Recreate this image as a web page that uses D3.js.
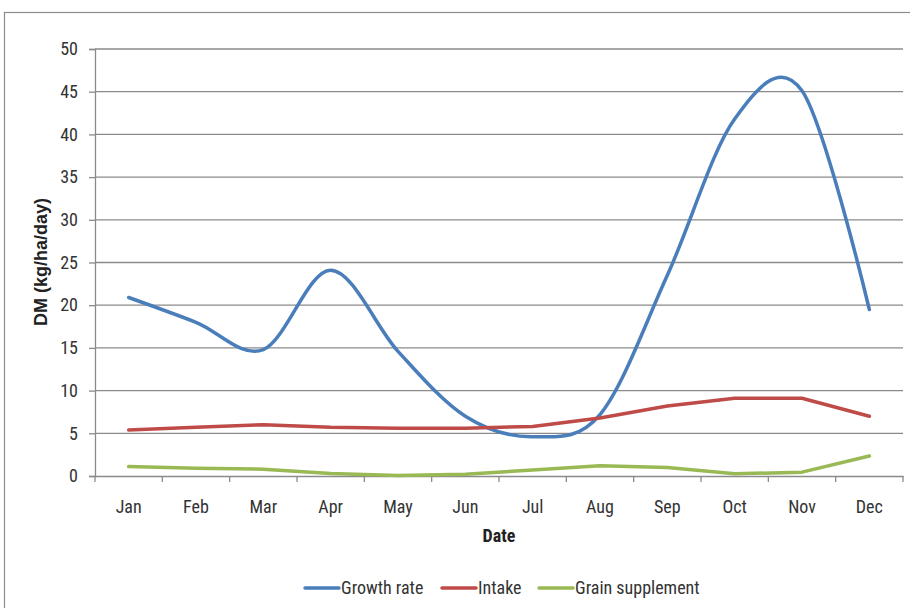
<!DOCTYPE html>
<html><head><meta charset="utf-8">
<script src="https://cdn.jsdelivr.net/npm/d3@7"></script>
<style>
body{margin:0;background:#fff;}
text{font-family:"Roboto Condensed","Liberation Sans Narrow",sans-serif;fill:#333;}
</style></head>
<body><svg id="c" width="910" height="608"></svg>
<script>
const months = ["Jan","Feb","Mar","Apr","May","Jun","Jul","Aug","Sep","Oct","Nov","Dec"];
const growthRate = [20.9, 18.0, 14.8, 24.1, 14.6, 7.0, 4.6, 7.2, 23.5, 41.8, 45.1, 19.5];
const intake = [5.4, 5.7, 6.0, 5.7, 5.6, 5.6, 5.8, 6.8, 8.2, 9.1, 9.1, 7.0];
const grain = [1.1, 0.9, 0.8, 0.3, 0.05, 0.2, 0.7, 1.2, 1.0, 0.25, 0.45, 2.35];
const yTicks = [0,5,10,15,20,25,30,35,40,45,50];
const seriesNames = ["Growth rate","Intake","Grain supplement"];
const colors = ["#4A7EBB","#BE4B48","#98B954"];

const svg = d3.select("#c");
const m = {l:95, r:903, t:49, b:476};
const x = d3.scaleBand().domain(months).range([m.l, m.r]);
const y = d3.scaleLinear().domain([0,50]).range([m.b, m.t]);
const NARROW = "'Roboto Condensed','Liberation Sans Narrow',sans-serif";

// outer frame
svg.append("rect").attr("x",4.5).attr("y",12.5).attr("width",920).attr("height",620)
  .attr("fill","none").attr("stroke","#8c8c8c").attr("stroke-width",1.2);

// gridlines
svg.append("g").selectAll("line").data(yTicks.filter(d=>d>0)).join("line")
  .attr("x1",m.l).attr("x2",m.r).attr("y1",d=>y(d)).attr("y2",d=>y(d))
  .attr("stroke","#8a8a8a").attr("stroke-width",1.3);

// y axis
const ya = svg.append("g").attr("transform",`translate(${m.l},0)`)
  .call(d3.axisLeft(y).tickValues(yTicks).tickSize(6).tickPadding(11));
ya.select(".domain").attr("stroke","#8a8a8a").attr("stroke-width",1.3);
ya.selectAll(".tick line").attr("stroke","#8a8a8a").attr("stroke-width",1.3);
ya.selectAll("text").attr("font-size",18).style("fill","#333").style("font-family",NARROW);

// x axis
const xa = svg.append("g").attr("transform",`translate(0,${m.b})`)
  .call(d3.axisBottom(x).tickSize(0));
xa.select(".domain").attr("stroke","#8a8a8a").attr("stroke-width",1.3);
xa.selectAll("text").attr("font-size",18).style("fill","#333").style("font-family",NARROW)
  .attr("dy",null).attr("y",37);
// boundary ticks
const bounds = months.map(d=>x(d)).concat([m.r]);
svg.append("g").selectAll("line").data(bounds).join("line")
  .attr("x1",d=>d).attr("x2",d=>d).attr("y1",m.b).attr("y2",m.b+6)
  .attr("stroke","#8a8a8a").attr("stroke-width",1.3);

// axis titles
svg.append("text").attr("x",499).attr("y",542).attr("text-anchor","middle")
  .style("font-family",NARROW).attr("font-size",18).attr("font-weight","bold").style("fill","#222").text("Date");
svg.append("text").attr("transform","translate(47,262) rotate(-90)").attr("text-anchor","middle")
  .style("font-family","'Liberation Sans',sans-serif").attr("font-size",18).attr("font-weight","bold")
  .style("fill","#222").text("DM (kg/ha/day)");

const cx = d => x(d) + x.bandwidth()/2;
const data = [growthRate, intake, grain];
const curves = [d3.curveCardinal.tension(0), d3.curveLinear, d3.curveLinear];
data.forEach((vals,i)=>{
  const line = d3.line().x((d,j)=>cx(months[j])).y(d=>y(d)).curve(curves[i]);
  svg.append("path").datum(vals).attr("d",line).attr("fill","none")
    .attr("stroke",colors[i]).attr("stroke-width",3.5).attr("stroke-linejoin","round").attr("stroke-linecap","round");
});

// legend
const legX = [305, 442, 539];
const lg = svg.append("g");
seriesNames.forEach((n,i)=>{
  lg.append("line").attr("x1",legX[i]).attr("x2",legX[i]+34).attr("y1",588).attr("y2",588)
    .attr("stroke",colors[i]).attr("stroke-width",3.5).attr("stroke-linecap","round");
  lg.append("text").attr("x",legX[i]+36).attr("y",594).attr("font-size",18).style("font-family",NARROW)
    .style("fill","#333").text(n);
});
</script></body></html>
